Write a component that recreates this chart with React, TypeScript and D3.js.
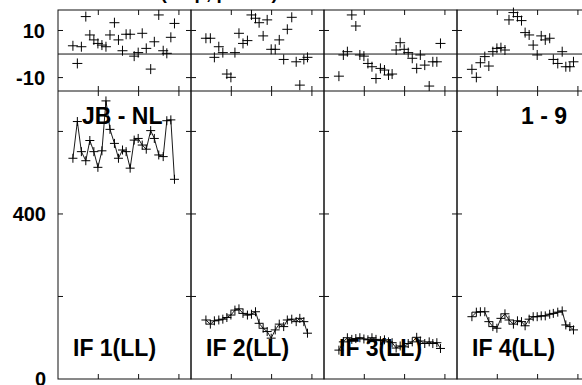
import React from "react";
import * as d3 from "d3";

// ---- data ----
const ifLabels = ["IF 1(LL)", "IF 2(LL)", "IF 3(LL)", "IF 4(LL)"];
const baselineLabel = "JB - NL";
const timerangeLabel = "1 - 9";
const titleText = "Plot file version 1 (amp, phase)";

const times = [0.37, 0.48, 0.58, 0.69, 0.79, 0.89, 0.99, 1.09, 1.19, 1.29, 1.4, 1.5, 1.6, 1.69, 1.79, 1.89, 1.99, 2.09, 2.19, 2.3, 2.39, 2.5, 2.61, 2.7, 2.8, 2.89];

const phaseIF1 = [3.5, -4, 3.1, 15.9, 8.1, 6, 4.5, 3.8, 3.1, 8.1, 13.3, 6, 1.4, 8.4, 8.4, -0.9, 0.6, 8.8, 2.4, -6.4, 5.2, 16.6, 1.4, 0.3, 7.1, 13];
const phaseIF2 = [6.7, 6.7, -1.4, 3.1, 0.6, -8.5, -9.9, 0.6, 8.8, 4.5, 5.7, 16.6, 15.2, 13.3, 7.7, 14.5, 2, 2, 6, -2.3, 10.5, 15.6, -3.3, -13.2, -2.3, -1.4];
const phaseIF3 = [-9.4, -0.4, 1, 16.6, 11.9, -0.4, -0.9, -4, -5.4, -10.4, -6.1, -6.8, -8.9, -8.5, 1.7, 4.8, 2, 0.6, -1.8, -6.1, -0.4, -4.7, -13.6, -3.3, -3.3, 4.5];
const phaseIF4 = [-6.5, -9.9, -3.7, -1.1, -5.1, 1, 2.4, 2.7, 1.7, 14.5, 17.6, 15.9, 14.2, 9.1, 8.1, 3.8, -0.4, 7.7, 6, 6.7, -2.3, -4, 1, -5.4, -5.4, -3.3];

const ampIF1 = [535, 624, 551, 529, 578, 551, 513, 553, 674, 605, 571, 535, 555, 551, 511, 579, 583, 567, 557, 602, 583, 543, 539, 626, 628, 484];
const ampIF2 = [143, 133, 141, 143, 145, 149, 155, 167, 170, 159, 155, 157, 163, 135, 123, 115, 99, 119, 133, 127, 143, 145, 139, 147, 139, 111];
const ampIF3 = [70, 90, 100, 96, 98, 100, 97, 95, 100, 96, 93, 95, 90, 88, 75, 80, 78, 86, 90, 101, 92, 86, 90, 86, 88, 74];
const ampIF4 = [151, 162, 163, 163, 139, 127, 123, 147, 158, 143, 133, 141, 139, 129, 145, 151, 151, 153, 153, 157, 159, 162, 165, 131, 127, 119];

const phaseSeries = [phaseIF1, phaseIF2, phaseIF3, phaseIF4];
const ampSeries = [ampIF1, ampIF2, ampIF3, ampIF4];

const phaseTicks = [-10, 10];
const phaseTickLabels = [-10, 10];
const ampTicks = [200, 400, 600];
const ampTickLabels = [0, 400];
const timeTicks = [1, 2, 3];

export default function App() {
  const W = 582, H = 385;
  const x0 = 58, pw = 133, yTop = 10, yMid = 91, yBot = 379;
  const font = "'Liberation Sans', Arial, sans-serif";
  const xScales = ifLabels.map((_, i) =>
    d3.scaleLinear().domain([0, 3.3]).range([x0 + i * pw, x0 + (i + 1) * pw])
  );
  const yPh = d3.scaleLinear().domain([-15.7, 18.7]).range([yMid, yTop]);
  const yAmp = d3.scaleLinear().domain([0, 698]).range([yBot, yMid]);
  const cross = (x: number, y: number, s = 5) => `M${x - s},${y}h${2 * s}M${x},${y - s}v${2 * s}`;
  const stroke = "#111";
  const tl = 5;

  return (
    <svg width={W} height={H} style={{ position: "fixed", left: 0, top: 0, background: "#fff" }}>
      <text x={-2} y={-1} fontFamily={font} fontWeight="bold" fontSize={19} fill="#000">{titleText}</text>
      {ifLabels.map((lab, i) => {
        const xs = xScales[i];
        const [xl, xr] = xs.range();
        const ampLine = d3.line<number>().x((_, k) => xs(times[k])).y((d) => yAmp(d));
        return (
          <g key={lab}>
            <rect x={xl} y={yTop} width={pw} height={yBot - yTop} fill="none" stroke={stroke} strokeWidth={1} />
            <line x1={xl} x2={xr} y1={yMid} y2={yMid} stroke={stroke} />
            <line x1={xl} x2={xr} y1={yPh(0)} y2={yPh(0)} stroke={stroke} />
            {phaseTicks.map((t) => (
              <g key={"p" + t}>
                <line x1={xl} x2={xl + tl} y1={yPh(t)} y2={yPh(t)} stroke={stroke} />
                <line x1={xr - tl} x2={xr} y1={yPh(t)} y2={yPh(t)} stroke={stroke} />
              </g>
            ))}
            {ampTicks.map((t) => (
              <g key={"a" + t}>
                <line x1={xl} x2={xl + tl} y1={yAmp(t)} y2={yAmp(t)} stroke={stroke} />
                <line x1={xr - tl} x2={xr} y1={yAmp(t)} y2={yAmp(t)} stroke={stroke} />
              </g>
            ))}
            {timeTicks.map((t) => (
              <g key={"t" + t}>
                <line x1={xs(t)} x2={xs(t)} y1={yTop} y2={yTop + tl} stroke={stroke} />
                <line x1={xs(t)} x2={xs(t)} y1={yMid - tl} y2={yMid + tl} stroke={stroke} />
                <line x1={xs(t)} x2={xs(t)} y1={yBot - tl} y2={yBot} stroke={stroke} />
              </g>
            ))}
            <path d={phaseSeries[i].map((d, k) => cross(xs(times[k]), yPh(d))).join("")} stroke="#000" fill="none" strokeWidth={1} />
            <path d={ampLine(ampSeries[i]) || ""} stroke="#000" fill="none" strokeWidth={0.9} />
            <path d={ampSeries[i].map((d, k) => cross(xs(times[k]), yAmp(d), 4.5)).join("")} stroke="#000" fill="none" strokeWidth={1} />
            <text x={xl + 15} y={356} fontFamily={font} fontWeight="bold" fontSize={23} fill="#000">{lab}</text>
          </g>
        );
      })}
      {phaseTickLabels.map((t) => (
        <text key={"pl" + t} x={45} y={yPh(t)} dy="0.36em" textAnchor="end" fontFamily={font} fontWeight="bold" fontSize={20}>{t}</text>
      ))}
      {ampTickLabels.map((t) => (
        <text key={"al" + t} x={46} y={yAmp(t)} dy="0.36em" textAnchor="end" fontFamily={font} fontWeight="bold" fontSize={20}>{t}</text>
      ))}
      <text x={82} y={124} fontFamily={font} fontWeight="bold" fontSize={23}>{baselineLabel}</text>
      <text x={567} y={124} textAnchor="end" fontFamily={font} fontWeight="bold" fontSize={23}>{timerangeLabel}</text>
    </svg>
  );
}
